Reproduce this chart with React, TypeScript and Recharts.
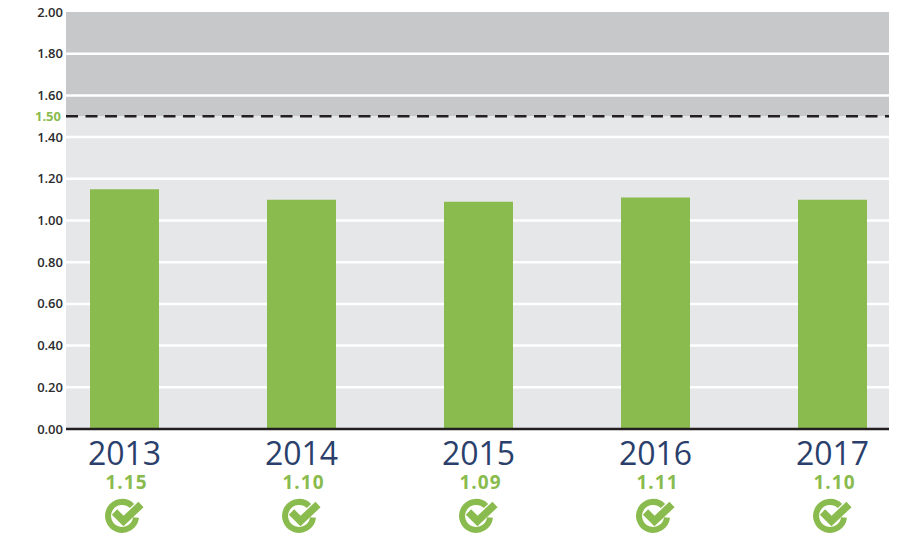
import React from 'react';
import {
  BarChart,
  Bar,
  XAxis,
  YAxis,
  CartesianGrid,
  ReferenceLine,
} from 'recharts';

const years = ['2013', '2014', '2015', '2016', '2017'];
const ratios = [1.15, 1.1, 1.09, 1.11, 1.1];
const yTicks = [0, 0.2, 0.4, 0.6, 0.8, 1, 1.2, 1.4, 1.5, 1.6, 1.8, 2];
const limit = 1.5;

const data = years.map((year, i) => ({ year, ratio: ratios[i] }));

const GREEN = '#8abb4e';
const FONT = '"Open Sans", sans-serif';

// top to bottom, the grid paints one stripe per value
const stripeValues = [...yTicks].reverse();
const stripeFills = stripeValues.map((v) => (v > limit ? '#c7c8ca' : '#e6e7e8'));

function GridLine({ x1, x2, y1, y2, index }: any) {
  const v = stripeValues[index];
  if (v === limit || v === 2 || v === 0) return null;
  return <line x1={x1} x2={x2} y1={y1} y2={y2} stroke="#ffffff" strokeWidth={2.5} />;
}

function YTick({ x, y, payload }: any) {
  const isLimit = payload.value === limit;
  return (
    <text
      x={x}
      y={y}
      dx={isLimit ? 3 : 5}
      dy={4.5}
      textAnchor="end"
      fontFamily={FONT}
      fontSize={13}
      fontWeight={isLimit ? 700 : 600}
      fill={isLimit ? GREEN : '#2b2b2d'}
    >
      {payload.value.toFixed(2)}
    </text>
  );
}

function YearTick({ x, y, payload, index }: any) {
  return (
    <g transform={`translate(${x},${y})`}>
      <text y={28} textAnchor="middle" fontFamily={FONT} fontSize={32} fill="#2a3f6b">
        {payload.value}
      </text>
      <text x={2} y={52} textAnchor="middle" fontFamily={FONT} fontSize={19} letterSpacing={1} fontWeight={700} fill={GREEN}>
        {ratios[index].toFixed(2)}
      </text>
      <g transform="translate(-2.5,79)">
        <path
          d="M 10 -10 A 14 14 0 1 0 14 1.5"
          fill="none"
          stroke={GREEN}
          strokeWidth={6}
        />
        <path
          d="M -7.5 -4 L 1.5 5 L 19 -11.5"
          fill="none"
          stroke={GREEN}
          strokeWidth={7.5}
        />
      </g>
    </g>
  );
}

export default function App() {
  return (
    <div style={{ position: 'absolute', left: 0, top: 0, width: 900, height: 540, background: '#fff' }}>
      <BarChart
        width={900}
        height={540}
        data={data}
        margin={{ top: 12, right: 11, bottom: 0, left: 0 }}
      >
        <CartesianGrid
          vertical={false}
          horizontal={(props: any) => <GridLine key={props.key} {...props} />}
          horizontalValues={stripeValues}
          horizontalFill={stripeFills}
          fillOpacity={1}
        />
        <XAxis
          dataKey="year"
          scale="point"
          padding={{ left: 58.5, right: 56.5 }}
          height={111}
          interval={0}
          axisLine={{ stroke: '#231f20', strokeWidth: 2.5 }}
          tickLine={false}
          tick={<YearTick />}
        />
        <YAxis
          width={66}
          domain={[0, 2]}
          ticks={yTicks}
          interval={0}
          axisLine={false}
          tickLine={false}
          tick={<YTick />}
        />
        <ReferenceLine y={limit} stroke="#231f20" strokeWidth={2.5} strokeDasharray="12 7.5" />
        <Bar dataKey="ratio" fill={GREEN} barSize={69} isAnimationActive={false} />
      </BarChart>
    </div>
  );
}
